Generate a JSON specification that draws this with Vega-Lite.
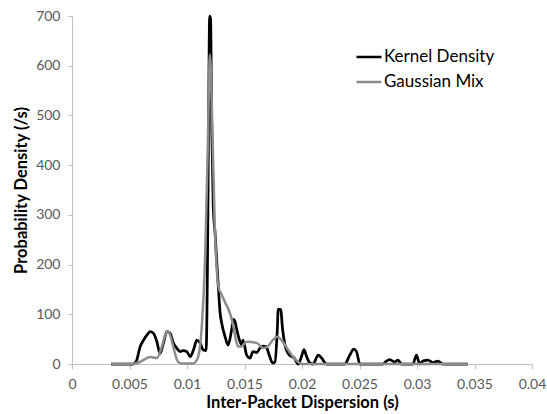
{
  "$schema": "https://vega.github.io/schema/vega-lite/v6.json",
  "width": 460,
  "height": 348,
  "autosize": {"type": "none"},
  "padding": {"left": 72, "top": 16, "right": 15, "bottom": 50},
  "background": "white",
  "config": {
    "view": {"stroke": null},
    "font": "Lato",
    "axis": {
      "grid": false,
      "domainColor": "#bfbfbf",
      "tickColor": "#bfbfbf",
      "tickSize": 5,
      "labelColor": "#595959",
      "labelFont": "Lato",
      "labelFontSize": 14,
      "labelFontWeight": "normal",
      "titleFont": "Lato",
      "titleFontSize": 16.5,
      "titleFontWeight": "bold",
      "titleColor": "#000000"
    }
  },
  "datasets": {
    "curves": [
      {"x": 0.00341, "density": 0, "series": "Kernel Density"},
      {"x": 0.0053, "density": 0, "series": "Kernel Density"},
      {"x": 0.00558, "density": 5, "series": "Kernel Density"},
      {"x": 0.00593, "density": 35, "series": "Kernel Density"},
      {"x": 0.00622, "density": 48, "series": "Kernel Density"},
      {"x": 0.00651, "density": 58, "series": "Kernel Density"},
      {"x": 0.0068, "density": 65, "series": "Kernel Density"},
      {"x": 0.00708, "density": 62, "series": "Kernel Density"},
      {"x": 0.00738, "density": 45, "series": "Kernel Density"},
      {"x": 0.00766, "density": 21, "series": "Kernel Density"},
      {"x": 0.00795, "density": 42, "series": "Kernel Density"},
      {"x": 0.00825, "density": 65, "series": "Kernel Density"},
      {"x": 0.00853, "density": 62, "series": "Kernel Density"},
      {"x": 0.00882, "density": 42, "series": "Kernel Density"},
      {"x": 0.00911, "density": 32, "series": "Kernel Density"},
      {"x": 0.0094, "density": 25, "series": "Kernel Density"},
      {"x": 0.00969, "density": 27, "series": "Kernel Density"},
      {"x": 0.00998, "density": 25, "series": "Kernel Density"},
      {"x": 0.01027, "density": 15, "series": "Kernel Density"},
      {"x": 0.01056, "density": 28, "series": "Kernel Density"},
      {"x": 0.01085, "density": 48, "series": "Kernel Density"},
      {"x": 0.01114, "density": 42, "series": "Kernel Density"},
      {"x": 0.01142, "density": 28, "series": "Kernel Density"},
      {"x": 0.01166, "density": 27, "series": "Kernel Density"},
      {"x": 0.01178, "density": 200, "series": "Kernel Density"},
      {"x": 0.01188, "density": 500, "series": "Kernel Density"},
      {"x": 0.01197, "density": 700, "series": "Kernel Density"},
      {"x": 0.01205, "density": 695, "series": "Kernel Density"},
      {"x": 0.01215, "density": 480, "series": "Kernel Density"},
      {"x": 0.01228, "density": 320, "series": "Kernel Density"},
      {"x": 0.01245, "density": 260, "series": "Kernel Density"},
      {"x": 0.01259, "density": 205, "series": "Kernel Density"},
      {"x": 0.01274, "density": 150, "series": "Kernel Density"},
      {"x": 0.01287, "density": 105, "series": "Kernel Density"},
      {"x": 0.01302, "density": 82, "series": "Kernel Density"},
      {"x": 0.01331, "density": 55, "series": "Kernel Density"},
      {"x": 0.01357, "density": 38, "series": "Kernel Density"},
      {"x": 0.01389, "density": 70, "series": "Kernel Density"},
      {"x": 0.01405, "density": 90, "series": "Kernel Density"},
      {"x": 0.01418, "density": 85, "series": "Kernel Density"},
      {"x": 0.01432, "density": 70, "series": "Kernel Density"},
      {"x": 0.01461, "density": 45, "series": "Kernel Density"},
      {"x": 0.01476, "density": 38, "series": "Kernel Density"},
      {"x": 0.01487, "density": 48, "series": "Kernel Density"},
      {"x": 0.01519, "density": 18, "series": "Kernel Density"},
      {"x": 0.01548, "density": 12, "series": "Kernel Density"},
      {"x": 0.01574, "density": 25, "series": "Kernel Density"},
      {"x": 0.01606, "density": 23, "series": "Kernel Density"},
      {"x": 0.01635, "density": 32, "series": "Kernel Density"},
      {"x": 0.01661, "density": 36, "series": "Kernel Density"},
      {"x": 0.01687, "density": 35, "series": "Kernel Density"},
      {"x": 0.01715, "density": 18, "series": "Kernel Density"},
      {"x": 0.01745, "density": 2, "series": "Kernel Density"},
      {"x": 0.01765, "density": 4, "series": "Kernel Density"},
      {"x": 0.01785, "density": 68, "series": "Kernel Density"},
      {"x": 0.01793, "density": 110, "series": "Kernel Density"},
      {"x": 0.01814, "density": 110, "series": "Kernel Density"},
      {"x": 0.01832, "density": 68, "series": "Kernel Density"},
      {"x": 0.01852, "density": 38, "series": "Kernel Density"},
      {"x": 0.0188, "density": 21, "series": "Kernel Density"},
      {"x": 0.0191, "density": 15, "series": "Kernel Density"},
      {"x": 0.01932, "density": 12, "series": "Kernel Density"},
      {"x": 0.01967, "density": 0, "series": "Kernel Density"},
      {"x": 0.01997, "density": 16, "series": "Kernel Density"},
      {"x": 0.02017, "density": 29, "series": "Kernel Density"},
      {"x": 0.0204, "density": 15, "series": "Kernel Density"},
      {"x": 0.02069, "density": 2, "series": "Kernel Density"},
      {"x": 0.02097, "density": 0, "series": "Kernel Density"},
      {"x": 0.02141, "density": 18, "series": "Kernel Density"},
      {"x": 0.0217, "density": 12, "series": "Kernel Density"},
      {"x": 0.02214, "density": 0, "series": "Kernel Density"},
      {"x": 0.02372, "density": 0, "series": "Kernel Density"},
      {"x": 0.02416, "density": 18, "series": "Kernel Density"},
      {"x": 0.0245, "density": 30, "series": "Kernel Density"},
      {"x": 0.02474, "density": 25, "series": "Kernel Density"},
      {"x": 0.02503, "density": 0, "series": "Kernel Density"},
      {"x": 0.02705, "density": 0, "series": "Kernel Density"},
      {"x": 0.02734, "density": 6, "series": "Kernel Density"},
      {"x": 0.02763, "density": 9, "series": "Kernel Density"},
      {"x": 0.02806, "density": 4, "series": "Kernel Density"},
      {"x": 0.02835, "density": 8, "series": "Kernel Density"},
      {"x": 0.02865, "density": 0, "series": "Kernel Density"},
      {"x": 0.02965, "density": 0, "series": "Kernel Density"},
      {"x": 0.02995, "density": 18, "series": "Kernel Density"},
      {"x": 0.03023, "density": 0, "series": "Kernel Density"},
      {"x": 0.03052, "density": 6, "series": "Kernel Density"},
      {"x": 0.03095, "density": 8, "series": "Kernel Density"},
      {"x": 0.03139, "density": 3, "series": "Kernel Density"},
      {"x": 0.03182, "density": 6, "series": "Kernel Density"},
      {"x": 0.03226, "density": 0, "series": "Kernel Density"},
      {"x": 0.0344, "density": 0, "series": "Kernel Density"},
      {"x": 0.00341, "density": 0, "series": "Gaussian Mix"},
      {"x": 0.0053, "density": 0, "series": "Gaussian Mix"},
      {"x": 0.0058, "density": 3, "series": "Gaussian Mix"},
      {"x": 0.0062, "density": 8, "series": "Gaussian Mix"},
      {"x": 0.0068, "density": 14, "series": "Gaussian Mix"},
      {"x": 0.00738, "density": 12, "series": "Gaussian Mix"},
      {"x": 0.00781, "density": 35, "series": "Gaussian Mix"},
      {"x": 0.00806, "density": 55, "series": "Gaussian Mix"},
      {"x": 0.00833, "density": 66, "series": "Gaussian Mix"},
      {"x": 0.00858, "density": 55, "series": "Gaussian Mix"},
      {"x": 0.0088, "density": 35, "series": "Gaussian Mix"},
      {"x": 0.00923, "density": 4, "series": "Gaussian Mix"},
      {"x": 0.00957, "density": 1, "series": "Gaussian Mix"},
      {"x": 0.01053, "density": 1, "series": "Gaussian Mix"},
      {"x": 0.01085, "density": 8, "series": "Gaussian Mix"},
      {"x": 0.0111, "density": 30, "series": "Gaussian Mix"},
      {"x": 0.0113, "density": 80, "series": "Gaussian Mix"},
      {"x": 0.01157, "density": 210, "series": "Gaussian Mix"},
      {"x": 0.0118, "density": 430, "series": "Gaussian Mix"},
      {"x": 0.012, "density": 622, "series": "Gaussian Mix"},
      {"x": 0.0122, "density": 480, "series": "Gaussian Mix"},
      {"x": 0.0124, "density": 290, "series": "Gaussian Mix"},
      {"x": 0.0126, "density": 185, "series": "Gaussian Mix"},
      {"x": 0.0128, "density": 150, "series": "Gaussian Mix"},
      {"x": 0.01295, "density": 143, "series": "Gaussian Mix"},
      {"x": 0.0131, "density": 135, "series": "Gaussian Mix"},
      {"x": 0.01335, "density": 122, "series": "Gaussian Mix"},
      {"x": 0.01357, "density": 112, "series": "Gaussian Mix"},
      {"x": 0.014, "density": 80, "series": "Gaussian Mix"},
      {"x": 0.0142, "density": 55, "series": "Gaussian Mix"},
      {"x": 0.01444, "density": 35, "series": "Gaussian Mix"},
      {"x": 0.0147, "density": 35, "series": "Gaussian Mix"},
      {"x": 0.0152, "density": 45, "series": "Gaussian Mix"},
      {"x": 0.0161, "density": 42, "series": "Gaussian Mix"},
      {"x": 0.0166, "density": 32, "series": "Gaussian Mix"},
      {"x": 0.017, "density": 35, "series": "Gaussian Mix"},
      {"x": 0.01745, "density": 48, "series": "Gaussian Mix"},
      {"x": 0.01785, "density": 55, "series": "Gaussian Mix"},
      {"x": 0.01832, "density": 45, "series": "Gaussian Mix"},
      {"x": 0.0188, "density": 28, "series": "Gaussian Mix"},
      {"x": 0.0192, "density": 15, "series": "Gaussian Mix"},
      {"x": 0.01967, "density": 4, "series": "Gaussian Mix"},
      {"x": 0.02, "density": 0, "series": "Gaussian Mix"},
      {"x": 0.0344, "density": 0, "series": "Gaussian Mix"}
    ]
  },
  "data": {"name": "curves"},
  "encoding": {
    "x": {
      "field": "x",
      "type": "quantitative",
      "scale": {"domain": [0, 0.04], "nice": false, "zero": false},
      "axis": {
        "title": "Inter-Packet Dispersion (s)",
        "values": [0, 0.005, 0.01, 0.015, 0.02, 0.025, 0.03, 0.035, 0.04],
        "labelExpr": "datum.value == 0 ? '0' : format(datum.value, '.3~f')",
        "labelPadding": 8,
        "titlePadding": 3,
        "labelFlush": false
      }
    },
    "y": {
      "field": "density",
      "type": "quantitative",
      "scale": {"domain": [0, 700], "nice": false},
      "axis": {
        "title": "Probability Density (/s)",
        "values": [0, 100, 200, 300, 400, 500, 600, 700],
        "tickSize": 4,
        "labelPadding": 8,
        "titlePadding": 6
      }
    },
    "color": {
      "field": "series",
      "type": "nominal",
      "scale": {"domain": ["Kernel Density", "Gaussian Mix"], "range": ["#000000", "#8c8c8c"]},
      "legend": {
        "title": null,
        "orient": "none",
        "legendX": 283,
        "legendY": 27,
        "symbolType": "stroke",
        "symbolSize": 625,
        "symbolStrokeWidth": 2.5,
        "labelFont": "Lato",
        "labelFontSize": 17,
        "labelColor": "#000000",
        "labelOffset": 1,
        "rowPadding": 3
      }
    }
  },
  "layer": [
    {
      "transform": [{"filter": "datum.series == 'Kernel Density'"}],
      "mark": {"type": "line", "strokeWidth": 2.75, "interpolate": "monotone"}
    },
    {
      "transform": [{"filter": "datum.series == 'Gaussian Mix'"}],
      "mark": {"type": "line", "strokeWidth": 2.5, "interpolate": "monotone"}
    }
  ]
}
